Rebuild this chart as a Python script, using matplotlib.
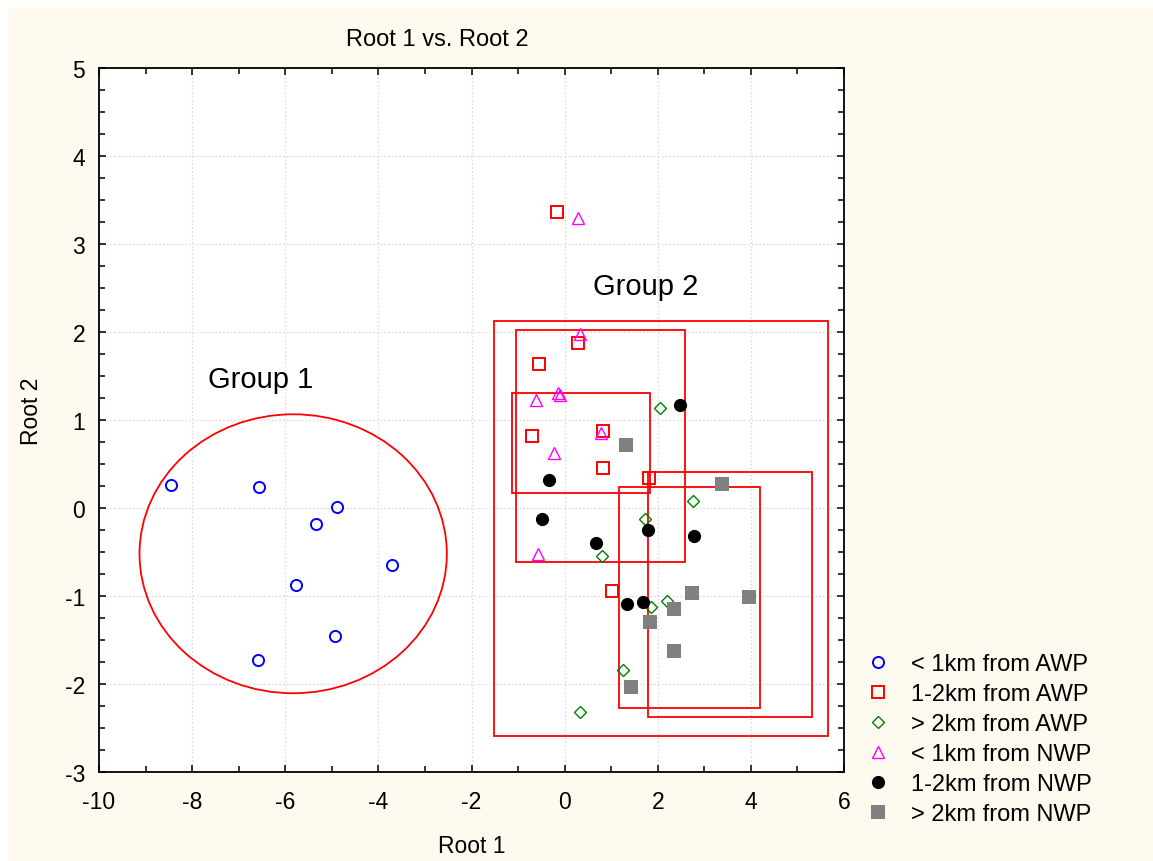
import matplotlib
matplotlib.use("Agg")
import matplotlib.pyplot as plt
from matplotlib.patches import Ellipse, Rectangle
from matplotlib.lines import Line2D
from matplotlib.ticker import MultipleLocator

plt.rcParams["font.family"] = ["Liberation Sans", "DejaVu Sans"]
plt.rcParams["axes.unicode_minus"] = False

# ── data (Root 1, Root 2 scores) ──────────────────────────────────────────────
awp_lt1_x = [-8.45, -6.56, -4.89, -5.34, -3.71, -5.77, -4.93, -6.59]
awp_lt1_y = [0.26, 0.24, 0.01, -0.18, -0.65, -0.875, -1.45, -1.73]

awp_12_x = [-0.16, 0.28, -0.55, -0.71, 0.83, 0.83, 1.82, 1.02]
awp_12_y = [3.36, 1.87, 1.64, 0.82, 0.88, 0.46, 0.34, -0.94]

awp_gt2_x = [2.05, 2.76, 1.73, 0.81, 2.19, 1.86, 1.25, 0.33]
awp_gt2_y = [1.14, 0.08, -0.13, -0.55, -1.06, -1.13, -1.84, -2.32]

nwp_lt1_x = [0.29, 0.33, -0.62, -0.15, -0.10, 0.78, -0.22, -0.58]
nwp_lt1_y = [3.30, 1.98, 1.23, 1.31, 1.28, 0.85, 0.63, -0.52]

nwp_12_x = [2.48, -0.33, -0.48, 0.67, 1.78, 2.77, 1.34, 1.69]
nwp_12_y = [1.17, 0.32, -0.13, -0.40, -0.25, -0.32, -1.09, -1.07]

nwp_gt2_x = [1.31, 3.37, 2.74, 3.97, 2.34, 1.83, 2.34, 1.43]
nwp_gt2_y = [0.72, 0.27, -0.97, -1.01, -1.15, -1.30, -1.63, -2.03]

labels = ["< 1km from AWP", "1-2km from AWP", "> 2km from AWP",
          "< 1km from NWP", "1-2km from NWP", "> 2km from NWP"]

# group 1 ellipse: centre, width, height
group1_ellipse = (-5.83, -0.52, 6.60, 3.17)
# group 2 boxes: x0, x1, y0, y1
group2_boxes = [
    (-1.52, 5.66, -2.59, 2.12),
    (-1.05, 2.59, -0.61, 2.02),
    (-1.12, 1.84, 0.17, 1.31),
    (1.78, 5.31, -2.38, 0.41),
    (1.16, 4.20, -2.27, 0.24),
]

# ── figure ────────────────────────────────────────────────────────────────────
W, H = 1153, 862
fig = plt.figure(figsize=(W / 100, H / 100), dpi=100, facecolor="white")
fig.patches.append(Rectangle((8 / W, 0), 1, 1 - 8 / H, transform=fig.transFigure,
                             facecolor="#FEFAF0", edgecolor="none", zorder=-10))

ax = fig.add_axes([99 / W, 1 - 773 / H, 745 / W, 704 / H])
ax.set_facecolor("white")
ax.set_xlim(-10, 6)
ax.set_ylim(-3, 5)
ax.xaxis.set_major_locator(MultipleLocator(2))
ax.xaxis.set_minor_locator(MultipleLocator(1))
ax.yaxis.set_major_locator(MultipleLocator(1))
ax.yaxis.set_minor_locator(MultipleLocator(0.25))
ax.tick_params(which="both", direction="in", top=True, right=True,
               labelsize=16.5, width=1.1)
ax.tick_params(which="major", length=5)
ax.tick_params(which="minor", length=4)
ax.tick_params(axis="x", pad=13)
ax.tick_params(axis="y", pad=10)
ax.grid(True, which="major", color="#D0D0D0", linestyle=(0, (1, 2)), linewidth=0.9)
ax.set_axisbelow(True)
for s in ax.spines.values():
    s.set_linewidth(1.3)

cx, cy, ew, eh = group1_ellipse
ax.add_patch(Ellipse((cx, cy), ew, eh, fill=False, edgecolor="red", linewidth=1.3, zorder=2))
for x0, x1, y0, y1 in group2_boxes:
    ax.add_patch(Rectangle((x0, y0), x1 - x0, y1 - y0, fill=False,
                           edgecolor="red", linewidth=1.3, zorder=2))

styles = [
    dict(marker="o", markersize=8, markerfacecolor="none", markeredgecolor="#0000FF", markeredgewidth=1.4),
    dict(marker="s", markersize=9, markerfacecolor="none", markeredgecolor="#FF0000", markeredgewidth=1.4),
    dict(marker="D", markersize=6.3, markerfacecolor="none", markeredgecolor="#008000", markeredgewidth=1.0),
    dict(marker="^", markersize=8.5, markerfacecolor="none", markeredgecolor="#FF00FF", markeredgewidth=1.0),
    dict(marker="o", markersize=9.5, markerfacecolor="black", markeredgecolor="black", markeredgewidth=0),
    dict(marker="s", markersize=9.5, markerfacecolor="#808080", markeredgecolor="#808080", markeredgewidth=0),
]
series = [(awp_lt1_x, awp_lt1_y), (awp_12_x, awp_12_y), (awp_gt2_x, awp_gt2_y),
          (nwp_lt1_x, nwp_lt1_y), (nwp_12_x, nwp_12_y), (nwp_gt2_x, nwp_gt2_y)]

handles = []
for (xs, ys), st, lab in zip(series, styles, labels):
    ax.plot(xs, ys, linestyle="none", zorder=3, **st)
    handles.append(Line2D([], [], linestyle="none", label=lab, **st))

ax.text(-6.52, 1.47, "Group 1", fontsize=21, ha="center", va="center")
ax.text(1.75, 2.52, "Group 2", fontsize=21, ha="center", va="center")

fig.text(437.5 / W, 1 - 40 / H, "Root 1 vs. Root 2", fontsize=17, ha="center", va="center")
fig.text(472 / W, 1 - 847 / H, "Root 1", fontsize=16.5, ha="center", va="center")
fig.text(32 / W, 1 - 411 / H, "Root 2", fontsize=16.5, ha="center", va="center", rotation=90)

fig.legend(handles=handles, loc="upper left", bbox_to_anchor=(860 / W, 1 - 654 / H),
           frameon=False, fontsize=17, borderpad=0, handlelength=1.5,
           handletextpad=0.64, labelspacing=0.34, borderaxespad=0)

fig.savefig("out.png", dpi=100)
